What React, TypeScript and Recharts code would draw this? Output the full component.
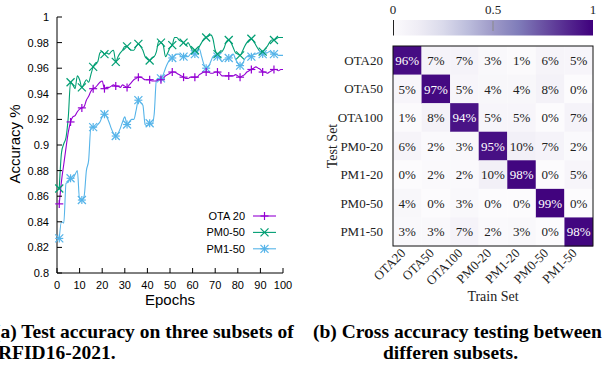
import React from 'react';
import { LineChart, Line, XAxis, YAxis, BarChart, Bar, Cell, LabelList } from 'recharts';

// ---------- Left chart data ----------
const epochs = Array.from({ length: 100 }, (_, i) => i + 1);
const xTicks = [0, 10, 20, 30, 40, 50, 60, 70, 80, 90, 100];
const yTicks = [0.8, 0.82, 0.84, 0.86, 0.88, 0.9, 0.92, 0.94, 0.96, 0.98, 1];
const seriesNames = ['OTA 20', 'PM0-50', 'PM1-50'];

const ota20 = [
  0.854, 0.872, 0.885, 0.898, 0.910, 0.918, 0.922, 0.923, 0.926, 0.928,
  0.929, 0.930, 0.935, 0.938, 0.942, 0.944, 0.945, 0.947, 0.949, 0.950,
  0.944, 0.945, 0.945, 0.946, 0.947, 0.946, 0.946, 0.945, 0.947, 0.946,
  0.945, 0.947, 0.949, 0.951, 0.952, 0.953, 0.953, 0.952, 0.951, 0.951,
  0.951, 0.950, 0.950, 0.950, 0.951, 0.951, 0.952, 0.954, 0.955, 0.956,
  0.957, 0.957, 0.956, 0.955, 0.954, 0.953, 0.952, 0.952, 0.953, 0.953,
  0.953, 0.953, 0.955, 0.956, 0.957, 0.957, 0.957, 0.956, 0.956, 0.957,
  0.957, 0.956, 0.954, 0.954, 0.954, 0.954, 0.954, 0.954, 0.955, 0.954,
  0.953, 0.954, 0.955, 0.957, 0.958, 0.959, 0.960, 0.961, 0.960, 0.959,
  0.957, 0.957, 0.956, 0.957, 0.958, 0.959, 0.959, 0.958, 0.959, 0.959,
];
const pm050 = [
  0.866, 0.894, 0.901, 0.906, 0.922, 0.949, 0.947, 0.944, 0.954, 0.951,
  0.945, 0.948, 0.951, 0.949, 0.955, 0.961, 0.964, 0.965, 0.972, 0.973,
  0.971, 0.972, 0.971, 0.973, 0.974, 0.965, 0.969, 0.972, 0.974, 0.977,
  0.977, 0.975, 0.974, 0.974, 0.977, 0.979, 0.977, 0.974, 0.969, 0.967,
  0.966, 0.968, 0.969, 0.973, 0.981, 0.980, 0.978, 0.969, 0.972, 0.976,
  0.978, 0.984, 0.984, 0.982, 0.981, 0.980, 0.978, 0.980, 0.977, 0.974,
  0.974, 0.973, 0.977, 0.980, 0.983, 0.984, 0.985, 0.986, 0.983, 0.974,
  0.971, 0.972, 0.973, 0.976, 0.981, 0.982, 0.980, 0.976, 0.972, 0.971,
  0.970, 0.973, 0.977, 0.980, 0.982, 0.983, 0.981, 0.978, 0.975, 0.973,
  0.973, 0.975, 0.977, 0.980, 0.982, 0.982, 0.983, 0.984, 0.984, 0.984,
];
const pm150 = [
  0.827, 0.840, 0.839, 0.870, 0.871, 0.874, 0.874, 0.877, 0.880, 0.857,
  0.857, 0.860, 0.880, 0.888, 0.914, 0.914, 0.914, 0.916, 0.918, 0.922,
  0.924, 0.922, 0.918, 0.913, 0.909, 0.907, 0.909, 0.913, 0.918, 0.922,
  0.916, 0.918, 0.920, 0.920, 0.927, 0.935, 0.933, 0.931, 0.916, 0.915,
  0.917, 0.916, 0.924, 0.951, 0.952, 0.952, 0.955, 0.960, 0.964, 0.967,
  0.968, 0.970, 0.971, 0.971, 0.969, 0.969, 0.970, 0.969, 0.971, 0.972,
  0.971, 0.974, 0.975, 0.969, 0.963, 0.960, 0.961, 0.965, 0.969, 0.970,
  0.969, 0.968, 0.965, 0.967, 0.967, 0.968, 0.969, 0.971, 0.967, 0.964,
  0.962, 0.963, 0.967, 0.969, 0.970, 0.969, 0.971, 0.971, 0.972, 0.972,
  0.971, 0.972, 0.972, 0.973, 0.972, 0.971, 0.971, 0.970, 0.970, 0.970,
];

// ---------- Right chart data ----------
const testSets = ['OTA20', 'OTA50', 'OTA100', 'PM0-20', 'PM1-20', 'PM0-50', 'PM1-50'];
const trainSets = ['OTA20', 'OTA50', 'OTA100', 'PM0-20', 'PM1-20', 'PM0-50', 'PM1-50'];
const rowOTA20 = [96, 7, 7, 3, 1, 6, 5];
const rowOTA50 = [5, 97, 5, 4, 4, 8, 0];
const rowOTA100 = [1, 8, 94, 5, 5, 0, 7];
const rowPM020 = [6, 2, 3, 95, 10, 7, 2];
const rowPM120 = [0, 2, 2, 10, 98, 0, 5];
const rowPM050 = [4, 0, 3, 0, 0, 99, 0];
const rowPM150 = [3, 3, 7, 2, 3, 0, 98];
const matrix = [rowOTA20, rowOTA50, rowOTA100, rowPM020, rowPM120, rowPM050, rowPM150];
const colorbarLabels = ['0', '0.5', '1'];

// ---------- Styling ----------
const COLORS = ['#9400d3', '#009e73', '#56b4e9'];
const KINDS = ['plus', 'cross', 'star'];
const SANS = '"Liberation Sans", Arial, sans-serif';
const SERIF = '"Liberation Serif", "Times New Roman", serif';
const PURPLES = ['#fcfbfd', '#efedf5', '#dadaeb', '#bcbddc', '#9e9ac8', '#807dba', '#6a51a3', '#54278f', '#3f007d'];

function hexToRgb(h: string) {
  return [parseInt(h.slice(1, 3), 16), parseInt(h.slice(3, 5), 16), parseInt(h.slice(5, 7), 16)];
}
function purples(t: number) {
  const tt = Math.max(0, Math.min(1, t)) * (PURPLES.length - 1);
  const i = Math.min(PURPLES.length - 2, Math.floor(tt));
  const f = tt - i;
  const a = hexToRgb(PURPLES[i]);
  const b = hexToRgb(PURPLES[i + 1]);
  const c = a.map((v, k) => Math.round(v + (b[k] - v) * f));
  return `rgb(${c[0]},${c[1]},${c[2]})`;
}

const lineData = epochs.map((e, i) => ({ epoch: e, ota20: ota20[i], pm050: pm050[i], pm150: pm150[i] }));
const heatData = testSets.map((t, i) => {
  const row: any = { test: t };
  trainSets.forEach((_, j) => {
    row[`c${j}`] = 1;
    row[`v${j}`] = matrix[i][j];
  });
  return row;
});

function Marker({ kind, cx, cy, color, r = 4 }: any) {
  const plus = (
    <>
      <line x1={cx - r} y1={cy} x2={cx + r} y2={cy} stroke={color} strokeWidth={1.2} />
      <line x1={cx} y1={cy - r} x2={cx} y2={cy + r} stroke={color} strokeWidth={1.2} />
    </>
  );
  const cross = (
    <>
      <line x1={cx - r} y1={cy - r} x2={cx + r} y2={cy + r} stroke={color} strokeWidth={1.2} />
      <line x1={cx - r} y1={cy + r} x2={cx + r} y2={cy - r} stroke={color} strokeWidth={1.2} />
    </>
  );
  return (
    <g>
      {(kind === 'plus' || kind === 'star') && plus}
      {(kind === 'cross' || kind === 'star') && cross}
    </g>
  );
}

const makeDot = (kind: string, color: string) => (props: any) => {
  const { cx, cy, index } = props;
  if (index % 5 !== 0 || cx == null || cy == null) return <g key={`d${index}`} />;
  return (
    <g key={`d${index}`}>
      <Marker kind={kind} cx={cx} cy={cy} color={color} />
    </g>
  );
};

const ColTick = (props: any) => {
  const { x, y, payload } = props;
  const label = trainSets[Math.floor(payload.value)];
  const ax = x - 1;
  const ay = y + 8;
  return (
    <text x={ax} y={ay} textAnchor="end" fontFamily={SERIF} fontSize={13} fill="#222"
      transform={`rotate(-45, ${ax}, ${ay})`}>
      {label}
    </text>
  );
};

const CellLabel = (props: any) => {
  const { x, y, width, height, value } = props;
  return (
    <text x={x + width / 2} y={y + height / 2} textAnchor="middle" dominantBaseline="central"
      fontFamily={SERIF} fontSize={13} fill={value > 50 ? '#ffffff' : '#222'}>
      {`${value}%`}
    </text>
  );
};

export default function App() {
  const gx0 = 393, gx1 = 593, gy0 = 46, gy1 = 246;
  return (
    <div style={{ position: 'absolute', left: 0, top: 0, width: 603, height: 366, background: '#fff', overflow: 'hidden' }}>
      <div style={{ position: 'absolute', left: 0, top: 0 }}>
        <LineChart width={300} height={310} data={lineData} margin={{ top: 17, right: 17, bottom: 17, left: 0 }}>
          <XAxis dataKey="epoch" type="number" domain={[0, 100]} ticks={xTicks} height={20}
            tickSize={-5} tickMargin={13} axisLine={{ stroke: '#000' }} tickLine={{ stroke: '#000' }}
            tick={{ fontSize: 11, fill: '#000', fontFamily: SANS }} />
          <XAxis xAxisId="top" orientation="top" type="number" domain={[0, 100]} ticks={xTicks} height={0}
            tickSize={-5} tickFormatter={() => ''} axisLine={{ stroke: '#000' }} tickLine={{ stroke: '#000' }} />
          <YAxis type="number" domain={[0.8, 1]} ticks={yTicks} width={57}
            tickSize={-5} tickMargin={13} axisLine={{ stroke: '#000' }} tickLine={{ stroke: '#000' }}
            tick={{ fontSize: 11, fill: '#000', fontFamily: SANS }} tickFormatter={(v: number) => String(v)} />
          <YAxis yAxisId="right" orientation="right" type="number" domain={[0.8, 1]} ticks={yTicks} width={0}
            tickSize={-5} tickFormatter={() => ''} axisLine={{ stroke: '#000' }} tickLine={{ stroke: '#000' }} />
          <Line type="monotone" dataKey="pm150" stroke={COLORS[2]} strokeWidth={1.1} dot={makeDot(KINDS[2], COLORS[2])} activeDot={false} isAnimationActive={false} />
          <Line type="monotone" dataKey="pm050" stroke={COLORS[1]} strokeWidth={1.1} dot={makeDot(KINDS[1], COLORS[1])} activeDot={false} isAnimationActive={false} />
          <Line type="monotone" dataKey="ota20" stroke={COLORS[0]} strokeWidth={1.1} dot={makeDot(KINDS[0], COLORS[0])} activeDot={false} isAnimationActive={false} />
        </LineChart>
      </div>

      <div style={{ position: 'absolute', left: 300, top: 0 }}>
        <BarChart width={303} height={310} data={heatData} layout="vertical"
          margin={{ top: 46, right: 10, bottom: 24, left: 0 }} barCategoryGap={0} barGap={0}>
          <XAxis type="number" domain={[0, trainSets.length]} ticks={trainSets.map((_, i) => i + 0.5)} height={40}
            axisLine={false} tickLine={false} tickSize={0} tickMargin={0} tick={<ColTick />} interval={0} />
          <YAxis type="category" dataKey="test" width={93} axisLine={false} tickLine={false} tickSize={0} tickMargin={10}
            tick={{ fontSize: 13, fill: '#222', fontFamily: SERIF }} interval={0} />
          {trainSets.map((_, j) => (
            <Bar key={j} dataKey={`c${j}`} stackId="a" isAnimationActive={false}>
              {heatData.map((_r: any, i: number) => (
                <Cell key={i} fill={purples(matrix[i][j] / 100)} />
              ))}
              <LabelList dataKey={`v${j}`} content={<CellLabel />} />
            </Bar>
          ))}
        </BarChart>
      </div>

      <svg width={603} height={366} style={{ position: 'absolute', left: 0, top: 0, pointerEvents: 'none' }}>
        <defs>
          <linearGradient id="cbar" x1="0" y1="0" x2="1" y2="0">
            {PURPLES.map((c, i) => (
              <stop key={i} offset={i / (PURPLES.length - 1)} stopColor={c} />
            ))}
          </linearGradient>
        </defs>
        {/* left axis titles */}
        <text x={170} y={305} textAnchor="middle" fontFamily={SANS} fontSize={15} fill="#000">Epochs</text>
        <text x={20} y={144} textAnchor="middle" fontFamily={SANS} fontSize={15} fill="#000"
          transform="rotate(-90, 20, 144)">Accuracy %</text>
        {/* legend */}
        {seriesNames.map((n, i) => {
          const y = 216 + i * 16.4;
          return (
            <g key={n}>
              <text x={245} y={y} textAnchor="end" dominantBaseline="central" fontFamily={SANS} fontSize={11} fill="#000">{n}</text>
              <line x1={253} y1={y} x2={276} y2={y} stroke={COLORS[i]} strokeWidth={1.1} />
              <Marker kind={KINDS[i]} cx={264.5} cy={y} color={COLORS[i]} />
            </g>
          );
        })}
        {/* heatmap frame */}
        <rect x={gx0} y={gy0} width={gx1 - gx0} height={gy1 - gy0} fill="none" stroke="#111" strokeWidth={1} />
        {/* colorbar */}
        <rect x={gx0} y={20} width={gx1 - gx0} height={15.5} fill="url(#cbar)" />
        <line x1={gx0 + 0.5} y1={20} x2={gx0 + 0.5} y2={35.5} stroke="#222" strokeWidth={1} />
        <line x1={(gx0 + gx1) / 2} y1={21} x2={(gx0 + gx1) / 2} y2={31} stroke="#888" strokeWidth={1} />
        {colorbarLabels.map((l, i) => (
          <text key={l} x={gx0 + (i * (gx1 - gx0)) / (colorbarLabels.length - 1)} y={14} textAnchor="middle"
            fontFamily={SERIF} fontSize={13} fill="#222">{l}</text>
        ))}
        {/* heatmap axis titles */}
        <text x={493} y={301} textAnchor="middle" fontFamily={SERIF} fontSize={14} fill="#222">Train Set</text>
        <text x={337} y={146} textAnchor="middle" fontFamily={SERIF} fontSize={14} fill="#222"
          transform="rotate(-90, 337, 146)">Test Set</text>
        {/* captions */}
        <text x={-6} y={338} fontFamily={SERIF} fontWeight="bold" fontSize={19.5} fill="#000">(a) Test accuracy on three subsets of</text>
        <text x={-2} y={359} fontFamily={SERIF} fontWeight="bold" fontSize={19.5} fill="#000">RFID16-2021.</text>
        <text x={313} y={338} fontFamily={SERIF} fontWeight="bold" fontSize={19.5} fill="#000">(b) Cross accuracy testing between</text>
        <text x={383} y={359} fontFamily={SERIF} fontWeight="bold" fontSize={19.5} fill="#000">differen subsets.</text>
      </svg>
    </div>
  );
}
